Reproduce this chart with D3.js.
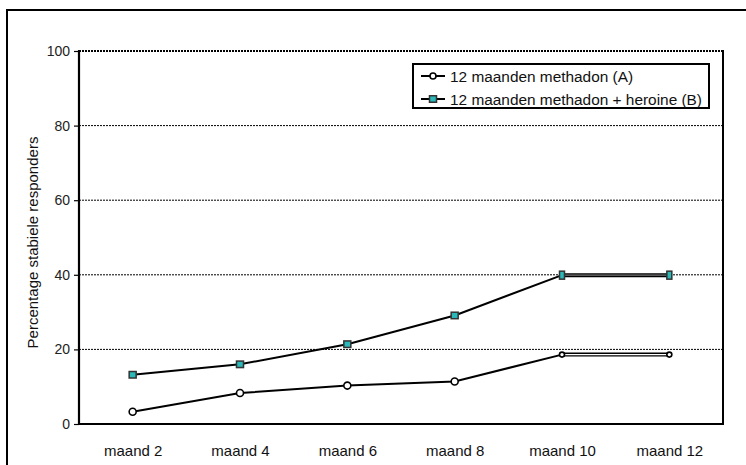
<!DOCTYPE html>
<html>
<head>
<meta charset="utf-8">
<script src="https://cdn.jsdelivr.net/npm/d3@7"></script>
<style>
  html, body { margin: 0; padding: 0; background: #fff; }
  svg { display: block; font-family: "Liberation Sans", Arial, sans-serif; }
</style>
</head>
<body>
<script>
// Percentage stable responders per month, two treatment arms
const categories = ["maand 2", "maand 4", "maand 6", "maand 8", "maand 10", "maand 12"];
const methadonA = [3.3, 8.3, 10.3, 11.4, 18.6, 18.6];
const heroineB = [13.2, 16.0, 21.4, 29.1, 39.9, 39.9];
const yTicks = [0, 20, 40, 60, 80, 100];
const seriesNames = ["12 maanden methadon (A)", "12 maanden methadon + heroine (B)"];
const yTitle = "Percentage stabiele responders";

const W = 746, H = 465;
const plot = { left: 79, right: 723, top: 51, bottom: 424 };

const svg = d3.select("body").append("svg").attr("width", W).attr("height", H);

// outer chart frame (extends past the right and bottom edges)
svg.append("rect")
  .attr("x", 7).attr("y", 10).attr("width", W + 20).attr("height", H + 20)
  .attr("fill", "#fff").attr("stroke", "#000").attr("stroke-width", 2);

const x = d3.scalePoint().domain(categories).range([plot.left, plot.right]).padding(0.5);
const y = d3.scaleLinear().domain([0, 100]).range([plot.bottom, plot.top]);

// dashed horizontal gridlines
svg.append("g").selectAll("line")
  .data(yTicks.filter(d => d > 0))
  .join("line")
  .attr("x1", plot.left).attr("x2", plot.right)
  .attr("y1", d => y(d)).attr("y2", d => y(d))
  .attr("stroke", "#000")
  .attr("stroke-width", d => d === 100 ? 2 : 1)
  .attr("stroke-dasharray", "2,1");

// right border of the plot area
svg.append("line")
  .attr("x1", plot.right).attr("x2", plot.right)
  .attr("y1", plot.top - 1).attr("y2", plot.bottom)
  .attr("stroke", "#000").attr("stroke-width", 2);

// y axis
const yAxis = svg.append("g")
  .attr("transform", `translate(${plot.left},0)`)
  .call(d3.axisLeft(y).tickValues(yTicks).tickSize(5).tickPadding(4));
yAxis.select(".domain").attr("stroke-width", 2.2).attr("d", `M0,${plot.top - 1}V${plot.bottom + 1}`);
yAxis.selectAll(".tick line").attr("stroke-width", 1.2);
yAxis.selectAll(".tick text")
  .attr("font-size", 14).attr("fill", "#222")
  .attr("font-family", "Liberation Sans, Arial, sans-serif");

// x axis (baseline only, labels below)
const xAxis = svg.append("g")
  .attr("transform", `translate(0,${plot.bottom})`)
  .call(d3.axisBottom(x).tickSize(0).tickPadding(0));
xAxis.select(".domain").attr("stroke-width", 2.2).attr("d", `M${plot.left - 1},0H${plot.right + 1}`);
xAxis.selectAll(".tick text")
  .attr("y", 32).attr("dy", 0)
  .attr("font-size", 15).attr("fill", "#111")
  .attr("font-family", "Liberation Sans, Arial, sans-serif");

// y axis title
svg.append("text")
  .attr("transform", `translate(38,${(plot.top + plot.bottom) / 2 + 5}) rotate(-90)`)
  .attr("text-anchor", "middle")
  .attr("font-size", 15).attr("fill", "#111")
  .text(yTitle);

const line = d3.line().x(d => x(d.c)).y(d => y(d.v));
const toPoints = vals => vals.map((v, i) => ({ c: categories[i], v, i }));

const ptsA = toPoints(methadonA);
const ptsB = toPoints(heroineB);
const lastIdx = categories.length - 1;

function drawSeries(pts, innerColor) {
  const g = svg.append("g");
  g.append("path")
    .datum(pts.slice(0, lastIdx))
    .attr("d", line).attr("fill", "none")
    .attr("stroke", "#000").attr("stroke-width", 2);
  // final flat segment drawn as an outlined stroke
  const tail = pts.slice(lastIdx - 1);
  g.append("path").datum(tail).attr("d", line).attr("fill", "none")
    .attr("stroke", "#000").attr("stroke-width", 4);
  g.append("path").datum(tail).attr("d", line).attr("fill", "none")
    .attr("stroke", innerColor).attr("stroke-width", 1.3);
  return g;
}

const teal = "#2bb8b8";

// series A: open circles
const gA = drawSeries(ptsA, "#fff");
gA.selectAll("circle").data(ptsA).join("circle")
  .attr("cx", d => x(d.c)).attr("cy", d => y(d.v))
  .attr("r", d => d.i >= lastIdx - 1 ? 2.5 : 3.5)
  .attr("fill", "#fff").attr("stroke", "#000").attr("stroke-width", 1.6);

// series B: teal squares
const gB = drawSeries(ptsB, "#777");
gB.selectAll("rect.m").data(ptsB).join("rect").attr("class", "m")
  .each(function (d) {
    const narrow = d.i >= lastIdx - 1;
    const w = narrow ? 5 : 7, h = narrow ? 8 : 6.5;
    d3.select(this)
      .attr("x", x(d.c) - w / 2).attr("y", y(d.v) - h / 2)
      .attr("width", w).attr("height", h);
  })
  .attr("fill", teal).attr("stroke", "#333").attr("stroke-width", 1.5);

// legend
const lg = svg.append("g");
lg.append("rect")
  .attr("x", 413).attr("y", 64).attr("width", 296).attr("height", 44)
  .attr("fill", "#fff").attr("stroke", "#000").attr("stroke-width", 2);
const rows = [76, 99];
seriesNames.forEach((name, i) => {
  const ry = rows[i];
  lg.append("line").attr("x1", 421).attr("x2", 445).attr("y1", ry).attr("y2", ry)
    .attr("stroke", "#000").attr("stroke-width", 2);
  if (i === 0) {
    lg.append("circle").attr("cx", 433).attr("cy", ry).attr("r", 3)
      .attr("fill", "#fff").attr("stroke", "#000").attr("stroke-width", 1.6);
  } else {
    lg.append("rect").attr("x", 429.5).attr("y", ry - 3.25).attr("width", 7).attr("height", 6.5)
      .attr("fill", teal).attr("stroke", "#333").attr("stroke-width", 1.5);
  }
  lg.append("text").attr("x", 450).attr("y", ry + 5.5)
    .attr("font-size", 15.4).attr("fill", "#111").text(name);
});
</script>
</body>
</html>
